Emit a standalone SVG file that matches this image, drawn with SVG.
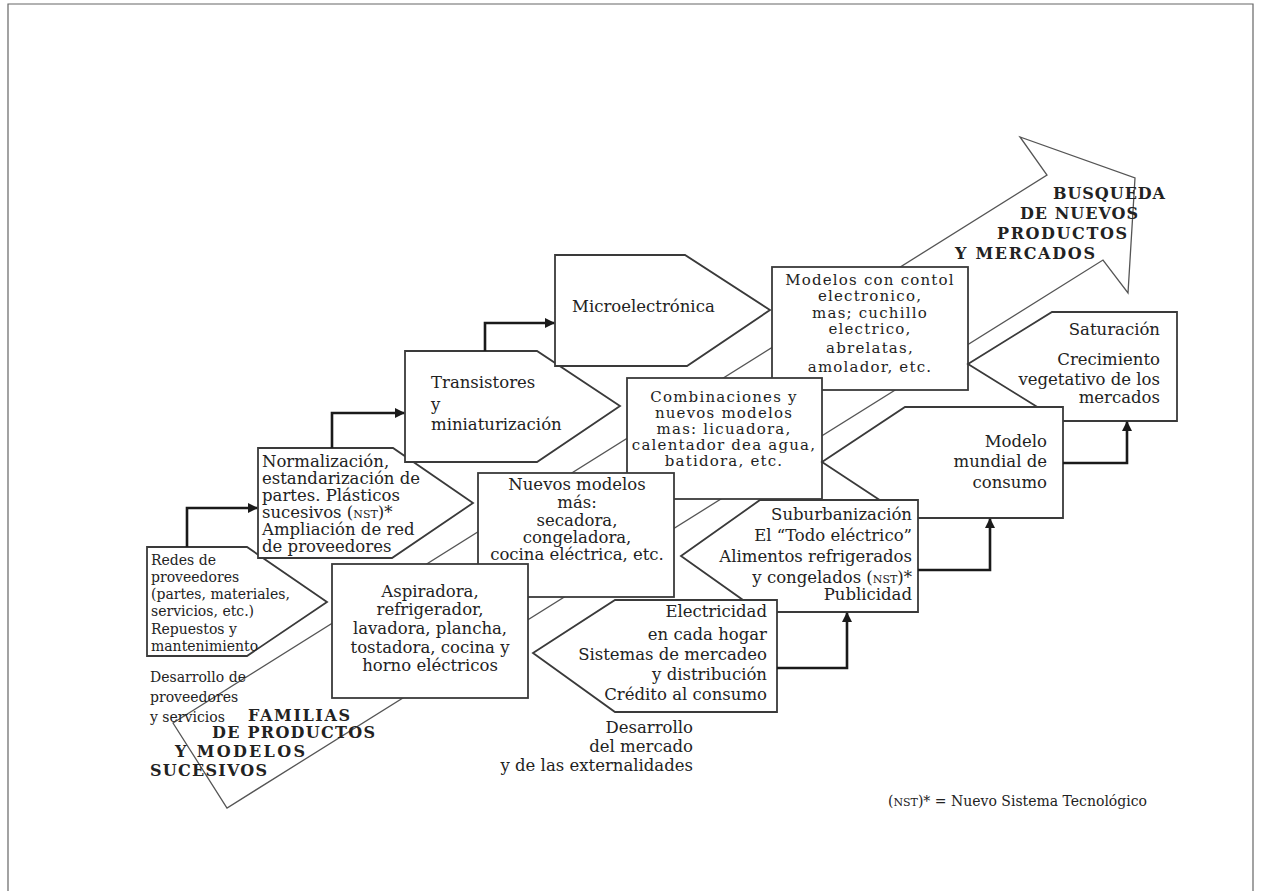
<svg xmlns="http://www.w3.org/2000/svg" width="1261" height="891" viewBox="0 0 1261 891">
<defs>
<style>
.frame{fill:none;stroke:#666;stroke-width:1.2}
.band{fill:#fff;stroke:#555;stroke-width:1.3}
.box{fill:#fff;stroke:#3a3a3a;stroke-width:1.8}
.t{font-family:"DejaVu Serif","Liberation Serif",serif;font-size:16.5px;fill:#222}
.s{font-size:14px}
.w{font-size:15px;letter-spacing:1.2px}
.b{font-family:"DejaVu Serif","Liberation Serif",serif;font-size:16px;font-weight:bold;fill:#222}
.e{text-anchor:end}
.m{text-anchor:middle}
.sc{font-size:11px}
.conn{fill:none;stroke:#1a1a1a;stroke-width:2.6}
</style>
<marker id="ah" viewBox="0 0 10 10" refX="9" refY="5" markerWidth="11" markerHeight="10" markerUnits="userSpaceOnUse" orient="auto">
<path d="M0,0 L10,5 L0,10 Z" fill="#1a1a1a"/>
</marker>
</defs>
<rect width="1261" height="891" fill="#fff"/>
<path class="frame" d="M8,891 V4 H1253 V891"/>

<g id="band">
<polygon class="band" points="173,723 1047,175 1020,137 1135,178 1128,293 1103,260 227,808"/>
<text class="b" x="248" y="721" textLength="102">FAMILIAS</text>
<text class="b" x="212" y="738" textLength="163">DE PRODUCTOS</text>
<text class="b" x="175" y="757" textLength="130">Y MODELOS</text>
<text class="b" x="150" y="776" textLength="117">SUCESIVOS</text>
<text class="b" x="1053" y="199" textLength="112">BUSQUEDA</text>
<text class="b" x="1020" y="219" textLength="118">DE NUEVOS</text>
<text class="b" x="997" y="239" textLength="130">PRODUCTOS</text>
<text class="b" x="955" y="259" textLength="140">Y MERCADOS</text>
</g>

<g id="modelos-control">
<rect class="box" x="772" y="267" width="196" height="123"/>
<text class="t m w" x="870" y="285">Modelos con contol</text>
<text class="t m w" x="870" y="301">electronico,</text>
<text class="t m w" x="870" y="318">mas; cuchillo</text>
<text class="t m w" x="870" y="334">electrico,</text>
<text class="t m w" x="870" y="353">abrelatas,</text>
<text class="t m w" x="870" y="372">amolador, etc.</text>
</g>

<g id="saturacion">
<polygon class="box" points="968,364 1052,312 1177,312 1177,421 1060,421"/>
<text class="t e" x="1160" y="335">Saturación</text>
<text class="t e" x="1160" y="365">Crecimiento</text>
<text class="t e" x="1160" y="385">vegetativo de los</text>
<text class="t e" x="1160" y="403">mercados</text>
</g>

<g id="combinaciones">
<rect class="box" x="627" y="378" width="195" height="121"/>
<text class="t m w" x="724" y="402">Combinaciones y</text>
<text class="t m w" x="724" y="418">nuevos modelos</text>
<text class="t m w" x="724" y="434">mas: licuadora,</text>
<text class="t m w" x="724" y="450">calentador dea agua,</text>
<text class="t m w" x="724" y="466">batidora, etc.</text>
</g>

<g id="modelo-mundial">
<polygon class="box" points="822,462 905,407 1063,407 1063,518 907,518"/>
<text class="t e" x="1047" y="447">Modelo</text>
<text class="t e" x="1047" y="467">mundial de</text>
<text class="t e" x="1047" y="488">consumo</text>
</g>

<g id="nuevos-modelos">
<rect class="box" x="478" y="473" width="196" height="124"/>
<text class="t m" x="577" y="490">Nuevos modelos</text>
<text class="t m" x="577" y="508">más:</text>
<text class="t m" x="577" y="526">secadora,</text>
<text class="t m" x="577" y="543">congeladora,</text>
<text class="t m" x="577" y="560">cocina eléctrica, etc.</text>
</g>

<g id="suburbanizacion">
<polygon class="box" points="681,556 760,500 918,500 918,612 760,612"/>
<text class="t e" x="912" y="520">Suburbanización</text>
<text class="t e" x="912" y="541">El “Todo eléctrico”</text>
<text class="t e" x="912" y="562">Alimentos refrigerados</text>
<text class="t e" x="912" y="583">y congelados (<tspan class="sc">NST</tspan>)*</text>
<text class="t e" x="912" y="600">Publicidad</text>
</g>

<g id="aspiradora">
<rect class="box" x="332" y="564" width="196" height="134"/>
<text class="t m" x="430" y="597">Aspiradora,</text>
<text class="t m" x="430" y="615">refrigerador,</text>
<text class="t m" x="430" y="634">lavadora, plancha,</text>
<text class="t m" x="430" y="653">tostadora, cocina y</text>
<text class="t m" x="430" y="671">horno eléctricos</text>
</g>

<g id="electricidad">
<polygon class="box" points="533,653 615,600 777,600 777,712 615,712"/>
<text class="t e" x="767" y="617">Electricidad</text>
<text class="t e" x="767" y="640">en cada hogar</text>
<text class="t e" x="767" y="660">Sistemas de mercadeo</text>
<text class="t e" x="767" y="680">y distribución</text>
<text class="t e" x="767" y="700">Crédito al consumo</text>
</g>

<g id="redes">
<polygon class="box" points="147,547 247,547 327,602 247,656 147,656"/>
<text class="t s" x="151" y="565">Redes de</text>
<text class="t s" x="151" y="582">proveedores</text>
<text class="t s" x="151" y="599">(partes, materiales,</text>
<text class="t s" x="151" y="616">servicios, etc.)</text>
<text class="t s" x="151" y="634">Repuestos y</text>
<text class="t s" x="151" y="651">mantenimiento</text>
</g>

<g id="normalizacion">
<polygon class="box" points="258,448 393,448 473,503 392,558 258,558"/>
<text class="t" x="262" y="467">Normalización,</text>
<text class="t" x="262" y="484">estandarización de</text>
<text class="t" x="262" y="501">partes. Plásticos</text>
<text class="t" x="262" y="518">sucesivos (<tspan class="sc">NST</tspan>)*</text>
<text class="t" x="262" y="535">Ampliación de red</text>
<text class="t" x="262" y="552">de proveedores</text>
</g>

<g id="transistores">
<polygon class="box" points="405,351 537,351 620,406 537,462 405,462"/>
<text class="t" x="431" y="388">Transistores</text>
<text class="t" x="431" y="410">y</text>
<text class="t" x="431" y="430">miniaturización</text>
</g>

<g id="microelectronica">
<polygon class="box" points="555,255 685,255 770,310 687,366 555,366"/>
<text class="t" x="572" y="312">Microelectrónica</text>
</g>

<g id="labels">
<text class="t s" x="150" y="682">Desarrollo de</text>
<text class="t s" x="150" y="702">proveedores</text>
<text class="t s" x="150" y="722">y servicios</text>
<text class="t e" x="693" y="733">Desarrollo</text>
<text class="t e" x="693" y="752">del mercado</text>
<text class="t e" x="693" y="771">y de las externalidades</text>
<text class="t e s" x="1147" y="806">(<tspan class="sc">NST</tspan>)* = Nuevo Sistema Tecnológico</text>
</g>

<g id="connectors">
<path class="conn" d="M187,547 V508 H257" marker-end="url(#ah)"/>
<path class="conn" d="M332,448 V413 H404" marker-end="url(#ah)"/>
<path class="conn" d="M485,351 V323 H554" marker-end="url(#ah)"/>
<path class="conn" d="M777,668 H847 V613" marker-end="url(#ah)"/>
<path class="conn" d="M918,570 H990 V519" marker-end="url(#ah)"/>
<path class="conn" d="M1063,463 H1127 V422" marker-end="url(#ah)"/>
</g>
</svg>
